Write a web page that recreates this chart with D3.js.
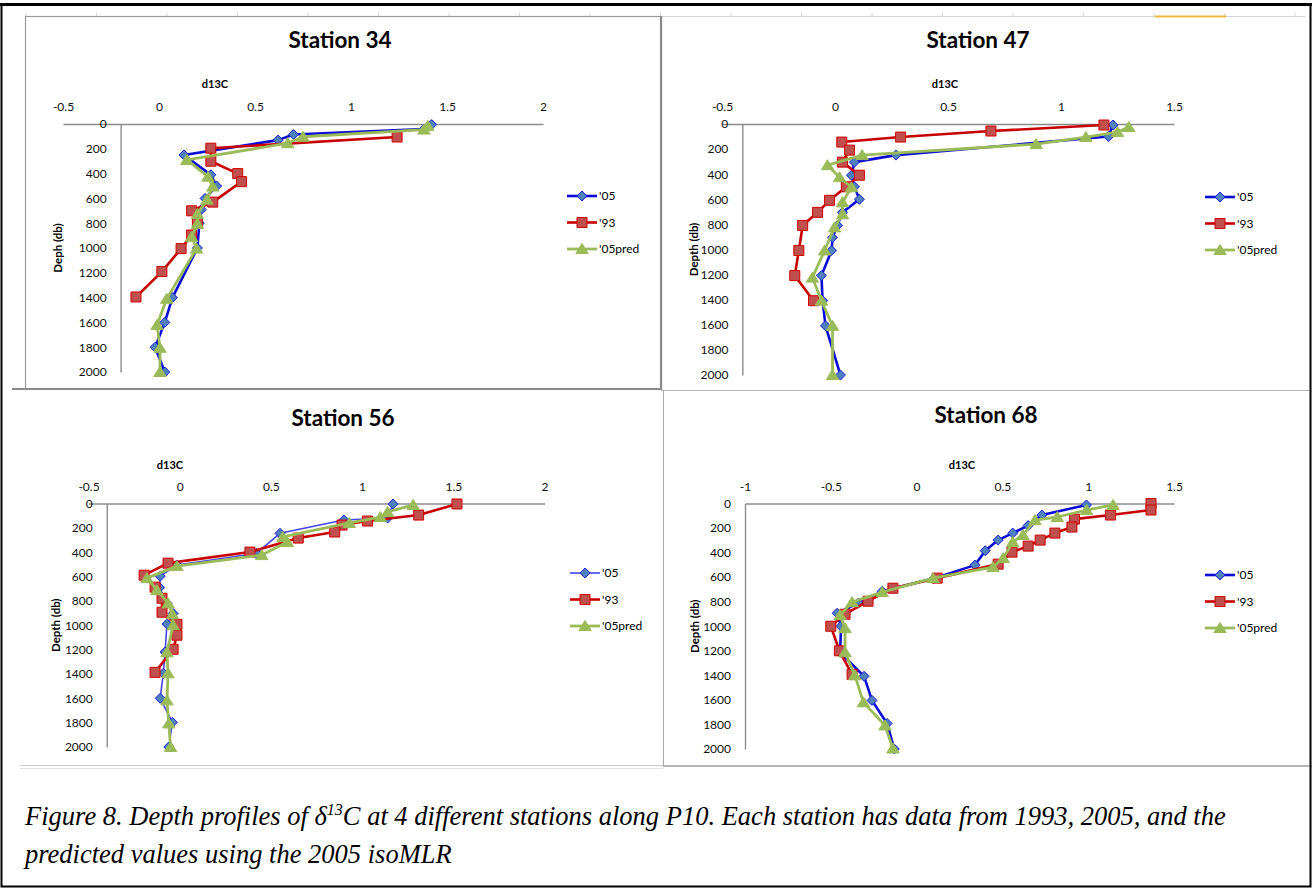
<!DOCTYPE html>
<html>
<head>
<meta charset="utf-8">
<script src="https://cdn.jsdelivr.net/npm/d3@7"></script>
<style>
body { margin: 0; background: #fff; }
svg text { font-family: Lato, "Open Sans", sans-serif; }
svg text.caption { font-family: "Liberation Serif", "Times New Roman", serif; font-style: italic; }
</style>
</head>
<body>
<div id="chart"></div>
<script>
'use strict';

// ---- data: [d13C, depth (db)] ----
var stations = ['Station 34', 'Station 47', 'Station 56', 'Station 68'];
var seriesNames = ["'05", "'93", "'05pred"];
var depthTicks = [0, 200, 400, 600, 800, 1000, 1200, 1400, 1600, 1800, 2000];
var xTicks34 = [-0.5, 0, 0.5, 1, 1.5, 2];
var xTicks47 = [-0.5, 0, 0.5, 1, 1.5];
var xTicks56 = [-0.5, 0, 0.5, 1, 1.5, 2];
var xTicks68 = [-1, -0.5, 0, 0.5, 1, 1.5];

var st34_05 = [[1.42,5],[1.38,40],[0.70,85],[0.62,130],[0.13,250],[0.27,410],[0.30,500],[0.24,600],[0.22,690],[0.21,800],[0.20,1000],[0.07,1400],[0.03,1600],[-0.02,1800],[0.03,2000]];
var st34_93 = [[1.24,105],[0.27,195],[0.27,300],[0.41,400],[0.43,465],[0.28,630],[0.17,700],[0.20,800],[0.17,895],[0.115,1005],[0.015,1190],[-0.12,1395]];
var st34_pred = [[1.40,15],[1.38,45],[0.75,103],[0.67,155],[0.145,290],[0.255,425],[0.28,505],[0.25,610],[0.20,725],[0.20,805],[0.17,910],[0.195,1005],[0.04,1410],[-0.01,1620],[0.005,1805],[0.005,2000]];

var st47_05 = [[1.23,8],[1.21,100],[0.27,248],[0.086,304],[0.073,408],[0.086,500],[0.108,600],[0.033,704],[0.011,808],[-0.011,904],[-0.015,1008],[-0.06,1208],[-0.055,1408],[-0.042,1608],[0.024,2000]];
var st47_93 = [[1.19,8],[0.69,56],[0.29,104],[0.03,144],[0.064,208],[0.033,304],[0.108,408],[0.05,500],[-0.024,608],[-0.077,704],[-0.143,808],[-0.16,1008],[-0.178,1208],[-0.095,1408]];
var st47_pred = [[1.30,24],[1.25,64],[1.11,104],[0.89,160],[0.12,248],[-0.033,328],[0.02,424],[0.073,504],[0.033,624],[0.033,720],[-0.002,824],[-0.046,1008],[-0.10,1224],[-0.06,1408],[-0.011,1608],[-0.011,2000]];

var st56_05 = [[1.17,4],[1.14,119],[0.90,136],[0.55,245],[0.42,410],[-0.015,505],[-0.107,597],[-0.11,690],[-0.07,820],[-0.036,904],[-0.07,990],[-0.08,1220],[-0.09,1395],[-0.107,1600],[-0.04,1797],[-0.06,2000]];
var st56_93 = [[1.52,4],[1.31,95],[1.03,144],[0.89,177],[0.85,234],[0.65,284],[0.385,399],[-0.064,490],[-0.195,589],[-0.135,687],[-0.097,778],[-0.097,893],[-0.015,992],[-0.015,1082],[-0.036,1197],[-0.135,1387]];
var st56_pred = [[1.28,12],[1.14,70],[1.10,111],[0.93,160],[0.565,275],[0.59,317],[0.45,424],[-0.015,514],[-0.18,613],[-0.125,712],[-0.064,819],[-0.04,910],[-0.036,1000],[-0.07,1222],[-0.064,1395],[-0.07,1617],[-0.06,1806],[-0.05,2000]];

var st68_05 = [[0.99,12],[0.73,94],[0.65,180],[0.56,241],[0.475,298],[0.40,385],[0.34,502],[0.10,610],[-0.20,715],[-0.34,812],[-0.463,894],[-0.44,1000],[-0.446,1212],[-0.306,1408],[-0.26,1604],[-0.172,1792],[-0.13,2000]];
var st68_93 = [[1.366,0],[1.366,53],[1.13,94],[0.92,127],[0.905,192],[0.806,241],[0.72,298],[0.65,347],[0.556,396],[0.475,494],[0.12,608],[-0.138,690],[-0.283,796],[-0.417,902],[-0.50,1000],[-0.45,1200],[-0.376,1392]];
var st68_pred = [[1.145,12],[0.99,53],[0.82,110],[0.69,135],[0.62,257],[0.56,314],[0.505,445],[0.445,518],[0.096,608],[-0.20,722],[-0.376,804],[-0.446,910],[-0.417,1016],[-0.417,1212],[-0.36,1400],[-0.31,1620],[-0.184,1808],[-0.138,1996]];

// ---- layout ----
var W = 1312, H = 888;

var shapes = {
    diamond: 'M0,-5L5,0L0,5L-5,0Z',
    square: 'M-5,-5H5V5H-5Z',
    triangle: 'M0,-5.5L6.2,4.5H-6.2Z'
};
var styles = [
    {line: '#0c0cd6', fill: '#4F81BD', stroke: '#1a1ae0', shape: 'diamond', w: 2.6},
    {line: '#c80000', fill: '#C0504D', stroke: '#d00000', shape: 'square', w: 2.6},
    {line: '#9BBB59', fill: '#9BBB59', stroke: '#9BBB59', shape: 'triangle', w: 2.8}
];

var panels = [
    {title: stations[0], ticks: xTicks34, data: [st34_05, st34_93, st34_pred],
     x0: 63, x1: 543, y0: 124, y1: 372, axisAt: -0.2, tx: 340, ty: 48, ux: 215, uy: 88,
     yLabel: 'Deph (db)', ylx: 58, legX: 567, legY: 196},
    {title: stations[1], ticks: xTicks47, data: [st47_05, st47_93, st47_pred],
     x0: 722, x1: 1174, y0: 124, y1: 375, axisAt: -0.41, tx: 978, ty: 48, ux: 945, uy: 88,
     yLabel: 'Depth (db)', ylx: 694, legX: 1205, legY: 197},
    {title: stations[2], ticks: xTicks56, data: [st56_05, st56_93, st56_pred],
     x0: 88.5, x1: 544.5, y0: 503.5, y1: 747, axisAt: -0.4, tx: 343, ty: 426, ux: 170, uy: 469,
     yLabel: 'Depth (db)', ylx: 56, legX: 570, legY: 573, thinBlue: true},
    {title: stations[3], ticks: xTicks68, data: [st68_05, st68_93, st68_pred],
     x0: 745, x1: 1174, y0: 503.5, y1: 749, axisAt: -1, tx: 986, ty: 423, ux: 962, uy: 469,
     yLabel: 'Depth (db)', ylx: 695, legX: 1205, legY: 575}
];

var svg = d3.select('#chart').append('svg')
    .attr('width', W)
    .attr('height', H);

svg.append('rect').attr('width', W).attr('height', H).attr('fill', '#fff');

// frames
var frame = svg.append('g').attr('fill', 'none');
frame.append('line').attr('x1', 25).attr('x2', 1305).attr('y1', 16.5).attr('y2', 16.5)
    .attr('stroke', '#d4d4d4');
for (var k = 0; k < 19; k++) {
    var gx = 26 + k * 70.5;
    if (gx > 1305) break;
    frame.append('line').attr('x1', gx).attr('x2', gx).attr('y1', 13).attr('y2', 17)
        .attr('stroke', '#d4d4d4');
}
frame.append('line').attr('x1', 1155).attr('x2', 1226).attr('y1', 16.5).attr('y2', 16.5)
    .attr('stroke', '#f2b93b').attr('stroke-width', 2);
frame.append('rect').attr('x', 25.5).attr('y', 16.5).attr('width', 636).attr('height', 372.5)
    .attr('stroke', '#9a9a9a').attr('stroke-width', 1.2);
frame.append('line').attr('x1', 661).attr('x2', 661).attr('y1', 16).attr('y2', 390)
    .attr('stroke', '#8a8a8a').attr('stroke-width', 2.2);
frame.append('line').attr('x1', 12).attr('x2', 661).attr('y1', 389).attr('y2', 389)
    .attr('stroke', '#8a8a8a').attr('stroke-width', 2.2);
frame.append('line').attr('x1', 661).attr('x2', 1312).attr('y1', 390.5).attr('y2', 390.5)
    .attr('stroke', '#b5b5b5');
frame.append('line').attr('x1', 663.5).attr('x2', 663.5).attr('y1', 390).attr('y2', 766)
    .attr('stroke', '#a8a8a8');
frame.append('line').attr('x1', 663).attr('x2', 1312).attr('y1', 766).attr('y2', 766)
    .attr('stroke', '#a0a0a0').attr('stroke-width', 1.5);
frame.append('line').attr('x1', 20).attr('x2', 663).attr('y1', 765.5).attr('y2', 765.5)
    .attr('stroke', '#c8c8c8');
frame.append('line').attr('x1', 20).attr('x2', 663).attr('y1', 768.5).attr('y2', 768.5)
    .attr('stroke', '#e2e2e2');
frame.append('rect').attr('x', 1.5).attr('y', 4.5).attr('width', W - 3).attr('height', H - 6)
    .attr('stroke', '#000').attr('stroke-width', 2);
frame.append('line').attr('x1', 0).attr('x2', W).attr('y1', 4.5).attr('y2', 4.5)
    .attr('stroke', '#000').attr('stroke-width', 3);

function drawPanel(p) {
    var x = d3.scaleLinear()
        .domain([p.ticks[0], p.ticks[p.ticks.length - 1]])
        .range([p.x0, p.x1]);
    var y = d3.scaleLinear().domain([0, 2000]).range([p.y0, p.y1]);
    var g = svg.append('g');

    g.append('text')
        .attr('x', p.tx).attr('y', p.ty)
        .attr('text-anchor', 'middle')
        .attr('font-size', '22.5px').attr('font-weight', 'bold')
        .text(p.title);
    g.append('text')
        .attr('x', p.ux).attr('y', p.uy)
        .attr('text-anchor', 'middle')
        .attr('font-size', '11px').attr('font-weight', 'bold')
        .text('d13C');

    var xAxisGroup = g.append('g')
        .attr('transform', 'translate(0,' + y(0) + ')')
        .call(d3.axisTop(x).tickValues(p.ticks).tickSize(0).tickPadding(13)
            .tickFormat(function (d) { return String(d); }));
    var yAxisGroup = g.append('g')
        .attr('transform', 'translate(' + x(p.axisAt) + ',0)')
        .call(d3.axisLeft(y).tickValues(depthTicks).tickSize(0).tickPadding(14)
            .tickFormat(function (d) { return String(d); }));
    [xAxisGroup, yAxisGroup].forEach(function (a) {
        a.select('.domain').attr('stroke', '#8c8c8c').attr('stroke-width', 1.4);
        a.selectAll('text').attr('font-size', '12px').attr('fill', '#111')
            .attr('font-family', 'Lato, sans-serif');
    });

    g.append('text')
        .attr('transform', 'translate(' + p.ylx + ',' + ((p.y0 + p.y1) / 2) + ') rotate(-90)')
        .attr('text-anchor', 'middle')
        .attr('dy', '0.35em')
        .attr('font-size', '11.5px').attr('font-weight', 'bold')
        .text(p.yLabel);

    var line = d3.line()
        .x(function (d) { return x(d[0]); })
        .y(function (d) { return y(d[1]); });

    p.data.forEach(function (ds, i) {
        var st = styles[i];
        var lw = st.w, lc = st.line;
        if (i === 0 && p.thinBlue) { lw = 1.6; lc = '#4545ee'; }
        g.append('path')
            .datum(ds)
            .attr('fill', 'none')
            .attr('stroke', lc)
            .attr('stroke-width', lw)
            .attr('stroke-linejoin', 'round')
            .attr('d', line);
        g.selectAll('.m' + i)
            .data(ds)
            .enter()
            .append('path')
            .attr('class', 'm' + i)
            .attr('transform', function (d) { return 'translate(' + x(d[0]) + ',' + y(d[1]) + ')'; })
            .attr('d', shapes[st.shape])
            .attr('fill', st.fill)
            .attr('stroke', st.stroke)
            .attr('stroke-width', 1);

        // legend
        var ly = p.legY + i * 26.5;
        var lg = g.append('g').attr('transform', 'translate(' + p.legX + ',' + ly + ')');
        lg.append('line').attr('x1', 0).attr('x2', 30).attr('y1', 0).attr('y2', 0)
            .attr('stroke', lc).attr('stroke-width', lw);
        lg.append('path').attr('transform', 'translate(15,0)')
            .attr('d', shapes[st.shape])
            .attr('fill', st.fill).attr('stroke', st.stroke);
        lg.append('text').attr('x', 32).attr('y', 0).attr('dy', '0.35em')
            .attr('font-size', '12px')
            .text(seriesNames[i]);
    });
}

panels.forEach(drawPanel);

// caption
var cap = svg.append('text')
    .attr('class', 'caption')
    .attr('x', 25).attr('y', 825)
    .attr('font-size', '26.5px');
cap.append('tspan').text('Figure 8. Depth profiles of \u03B4');
cap.append('tspan').attr('font-size', '16px').attr('dy', -10).text('13');
cap.append('tspan').attr('dy', 10).text('C at 4 different stations along P10. Each station has data from 1993, 2005, and the');
svg.append('text')
    .attr('class', 'caption')
    .attr('x', 25).attr('y', 863)
    .attr('font-size', '26.5px')
    .text('predicted values using the 2005 isoMLR');
</script>
</body>
</html>
